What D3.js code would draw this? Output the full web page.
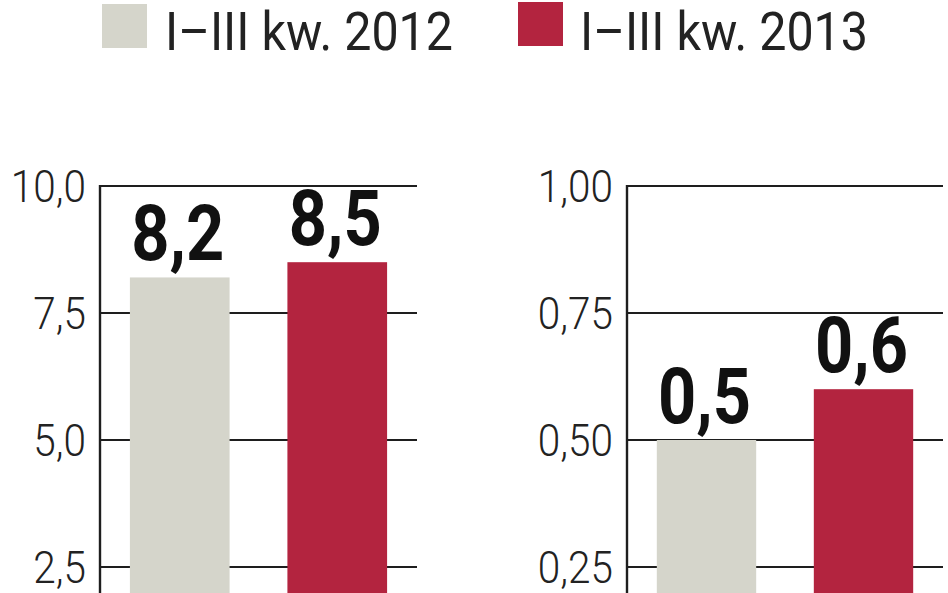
<!DOCTYPE html>
<html><head><meta charset="utf-8">
<script src="https://cdn.jsdelivr.net/npm/d3@7"></script>
<style>html,body{margin:0;padding:0;background:#fff;overflow:hidden}</style>
</head><body>
<svg id="c" width="948" height="593"></svg>
<script>
const series = ["I–III kw. 2012", "I–III kw. 2013"];
const colors = ["#d5d5cb", "#b3243f"];
const leftValues = [8.2, 8.5];
const rightValues = [0.5, 0.6];
const leftTicks = [2.5, 5.0, 7.5, 10.0];
const rightTicks = [0.25, 0.50, 0.75, 1.00];
const leftTickLabels = ["2,5", "5,0", "7,5", "10,0"];
const rightTickLabels = ["0,25", "0,50", "0,75", "1,00"];
const leftValueLabels = ["8,2", "8,5"];
const rightValueLabels = ["0,5", "0,6"];

const svg = d3.select("#c");

// legend
const legendPos = [{sx:102, sy:4, tx:165}, {sx:518, sy:2, tx:580}];
series.forEach((s, i) => {
  const p = legendPos[i];
  svg.append("rect").attr("x", p.sx).attr("y", p.sy).attr("width", 45).attr("height", 44).attr("fill", colors[i]);
  svg.append("text").attr("x", p.tx).attr("y", 50)
    .attr("font-family", "Roboto").attr("font-weight", 400).attr("font-size", 53)
    .attr("fill", "#222")
    .attr("textLength", 288).attr("lengthAdjust", "spacingAndGlyphs")
    .text(s);
});

function panel(x0, x1, max, values, ticks, tickLabels, valueLabels) {
  const y = d3.scaleLinear().domain([0, max]).range([694, 186]);
  const x = d3.scaleBand().domain(series).range([x0, x1]).paddingInner(58/158).paddingOuter(30/158);
  const g = svg.append("g");
  g.selectAll("line.grid").data(ticks).enter().append("line")
    .attr("x1", x0).attr("x2", x1).attr("y1", d => y(d)).attr("y2", d => y(d))
    .attr("stroke", "#1e1e1e").attr("stroke-width", 2.2);
  g.append("line").attr("x1", x0).attr("x2", x0).attr("y1", y(max) - 1).attr("y2", 593)
    .attr("stroke", "#1e1e1e").attr("stroke-width", 2.4);
  g.selectAll("text.tick").data(ticks).enter().append("text")
    .attr("transform", d => `translate(${x0 - 14},${y(d) + 16}) scale(0.9,1)`)
    .attr("text-anchor", "end")
    .attr("font-family", "Roboto").attr("font-weight", 300).attr("font-size", 45)
    .attr("fill", "#222")
    .text((d, i) => tickLabels[i]);
  g.selectAll("rect.bar").data(values).enter().append("rect")
    .attr("x", (d, i) => x(series[i])).attr("width", x.bandwidth())
    .attr("y", d => y(d)).attr("height", d => 694 - y(d))
    .attr("fill", (d, i) => colors[i]);
  g.selectAll("text.val").data(values).enter().append("text")
    .attr("x", (d, i) => x(series[i]) + x.bandwidth() / 2 - 2)
    .attr("y", d => y(d) - 17)
    .attr("text-anchor", "middle")
    .attr("font-family", "Roboto").attr("font-weight", 700).attr("font-size", 78)
    .attr("fill", "#111")
    .attr("textLength", 93).attr("lengthAdjust", "spacingAndGlyphs")
    .text((d, i) => valueLabels[i]);
}

panel(100, 417, 10, leftValues, leftTicks, leftTickLabels, leftValueLabels);
panel(627, 943, 1, rightValues, rightTicks, rightTickLabels, rightValueLabels);
</script>
</body></html>
